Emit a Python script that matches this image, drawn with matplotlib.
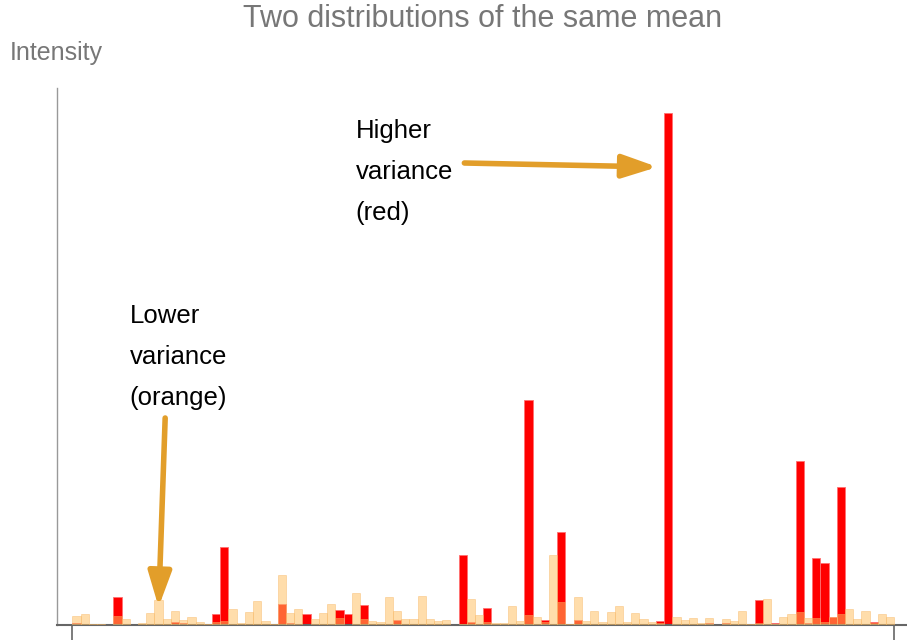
import numpy as np
import matplotlib
matplotlib.use("Agg")
import matplotlib.pyplot as plt

plt.rcParams['font.family'] = ['Liberation Sans', 'DejaVu Sans']

# 100 bins, heights (arbitrary intensity units)
red = [2, 0, 0, 0, 0, 28, 0, 0, 0, 1,
       0, 0, 3, 1.7, 0, 0, 0, 11.5, 78, 0,
       0, 1, 1, 1.5, 0, 21, 2, 0, 11.5, 0,
       0, 0, 15.5, 11.3, 0, 20, 0, 0, 1, 5,
       1.5, 1, 0, 0, 0, 0, 0, 70, 3.3, 0,
       17, 0, 1, 0, 0, 225, 0, 5, 0, 93,
       0, 5, 1, 0, 0, 0, 0, 0, 1, 0,
       0, 4, 512, 0, 1, 1, 0, 2, 0, 2,
       0, 0, 0, 25, 0, 2, 0, 0, 164, 2,
       67, 62, 8, 138, 0, 0, 0, 3, 0, 0]
orange = [9, 11, 1, 1, 0, 9, 6, 0, 2, 12,
          25, 6, 14, 5, 8, 3, 1, 3, 4, 16,
          2, 13, 24, 4, 0.7, 50, 12, 16, 0, 6,
          12, 21, 7, 0, 32, 6, 4, 3, 28, 14,
          6, 6, 29, 6, 4, 5, 0, 1, 26, 10,
          3, 2, 1.7, 19, 4, 10, 8, 3.5, 70, 23,
          1, 28, 4, 14, 3, 13, 19, 3, 12, 6,
          3, 2, 0, 8, 5, 7, 2, 7, 0, 6,
          4, 14, 1, 2, 26, 1, 8, 11, 13, 7,
          7, 3, 8, 11, 16, 6, 14, 2, 11, 8]
bins = np.arange(len(red))

fig = plt.figure(figsize=(9.07, 6.41), dpi=100)
ax = fig.add_axes([57/907, 16/641, 850/907, 537/641])

ax.bar(bins, red, width=1, align='edge', color='#ff0000',
       edgecolor='#ff7070', linewidth=0.6, zorder=2)
ax.bar(bins, orange, width=1, align='edge', color=(1.0, 0.75, 0.38, 0.53),
       edgecolor=(0.97, 0.72, 0.40, 0.5), linewidth=0.6, zorder=3)

ax.set_xlim(-1.86, 101.55)
ax.set_ylim(0, 537)

for s in ['top', 'right']:
    ax.spines[s].set_visible(False)
ax.spines['left'].set_color('#999999')
ax.spines['left'].set_linewidth(1.0)
ax.spines['bottom'].set_color('#666666')
ax.spines['bottom'].set_linewidth(1.5)
ax.set_xticks([0, 100])
ax.set_xticklabels([])
ax.set_yticks([])
ax.tick_params(axis='x', direction='out', length=11, width=1.2, colors='#666666')

fig.text(483/907, 1 - 19/641, 'Two distributions of the same mean',
         ha='center', va='center', fontsize=22, color='#777777')
fig.text(10/907, 1 - 53/641, 'Intensity', ha='left', va='center',
         fontsize=18, color='#777777')

arrow_col = '#e29e2a'
ap = dict(arrowstyle='-|>,head_length=2.1,head_width=0.7', color=arrow_col,
          lw=4, shrinkA=0, shrinkB=0)

# arrow to the tallest red bar
tall = int(np.argmax(red))
ax.annotate('', xy=(tall - 0.8, 458), xytext=(47.7, 462), arrowprops=ap, zorder=5)
ax.text(34.5, 506, 'Higher\nvariance\n(red)', ha='left', va='top',
        fontsize=18.5, color='black', linespacing=1.9)

# arrow to an orange bar
ax.annotate('', xy=(10.5, orange[10] - 7), xytext=(11.3, 207), arrowprops=ap, zorder=5)
ax.text(7.0, 321, 'Lower\nvariance\n(orange)', ha='left', va='top',
        fontsize=18.5, color='black', linespacing=1.9)

fig.savefig('out.png', dpi=100)
